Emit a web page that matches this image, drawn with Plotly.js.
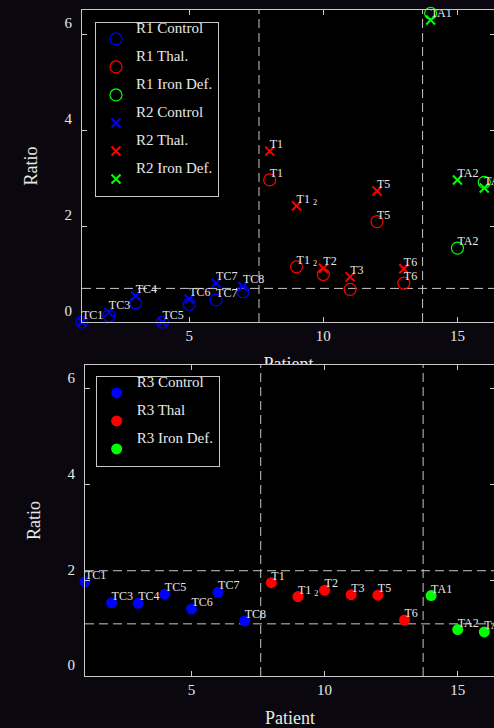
<!DOCTYPE html>
<html><head><meta charset="utf-8">
<script src="https://cdn.plot.ly/plotly-3.0.1.min.js"></script>
<style>
html,body{margin:0;padding:0;background:#0a080e;width:494px;height:728px;overflow:hidden;}
#wrap{position:relative;width:494px;height:728px;overflow:hidden;}
#top{position:absolute;left:0;top:0;width:500px;height:400px;}
#bot{position:absolute;left:0;top:0;width:500px;height:728px;}
</style></head>
<body><div id="wrap"><div id="top"></div><div id="bot"></div></div>
<script>
// ---- data ----
const controlX = [1, 2, 3, 4, 5, 6, 7];
const controlLabels = ['TC1', 'TC3', 'TC4', 'TC5', 'TC6', 'TC7', 'TC8'];
const controlLabelsR1 = ['', '', '', '', '', 'TC7', ''];
const thalX = [8, 9, 10, 11, 12, 13];
const thalLabels = ['T1', 'T1 <sub>2</sub>', 'T2', 'T3', 'T5', 'T6'];
const thalLabelsR1 = ['T1', 'T1 <sub>2</sub>', '', '', 'T5', 'T6'];
const ironX = [14, 15, 16];
const ironLabels = ['TA1', 'TA2', 'TA3'];
const ironLabelsR1 = ['', 'TA2', ''];

const r1Control = [0.00, 0.13, 0.40, 0.00, 0.37, 0.46, 0.63];
const r2Control = [0.00, 0.20, 0.54, 0.00, 0.48, 0.81, 0.74];
const r1Thal = [2.96, 1.15, 0.99, 0.68, 2.09, 0.81];
const r2Thal = [3.56, 2.42, 1.12, 0.94, 2.73, 1.11];
const r1Iron = [6.43, 1.54, 2.91];
const r2Iron = [6.29, 2.96, 2.79];

const r3Control = [1.97, 1.53, 1.52, 1.71, 1.40, 1.75, 1.15];
const r3Thal = [1.95, 1.66, 1.79, 1.70, 1.69, 1.17];
const r3Iron = [1.68, 0.97, 0.92];

const groupBounds = [7.6, 13.7];
const topRefLines = [0.70];
const bottomRefLines = [2.2, 1.09];

const xTicks = [5, 10, 15];
const yTicks = [0, 2, 4, 6];

// ---- style ----
const FONT = 'Liberation Serif, Times New Roman, serif';
const TXT = '#e8e8e8';
const AX = '#c8c8c8';
const BLUE = '#0000ff', RED = '#ff0000', GREEN = '#00ff00';

function legName(s) { return '<span style="baseline-shift:12px">' + s + '</span>'; }

function circles(x, y, name, color, filled, group) {
  return {
    type: 'scatter', mode: 'markers', x: x, y: y, name: legName(name),
    legendgroup: group, cliponaxis: false, hoverinfo: 'skip',
    marker: filled ? {symbol: 'circle', size: 11, color: color}
                   : {symbol: 'circle-open', size: 12, color: color, line: {width: 1.2, color: color}}
  };
}
function crosses(x, y, name, color, group) {
  return {
    type: 'scatter', mode: 'markers', x: x, y: y, name: legName(name),
    legendgroup: group, cliponaxis: false, hoverinfo: 'skip',
    marker: {symbol: 'x-thin', size: 9, color: color, line: {width: 2, color: color}}
  };
}
function labels(x, y, t) {
  // keep only the points that carry a label
  const keep = t.map((s, i) => s ? i : -1).filter(i => i >= 0);
  return {
    type: 'scatter', mode: 'text',
    x: keep.map(i => x[i]), y: keep.map(i => y[i]), text: keep.map(i => t[i]),
    textposition: 'top right',
    cliponaxis: false, showlegend: false, hoverinfo: 'skip',
    textfont: {family: FONT, size: 12, color: TXT}
  };
}

function axes(titleStandoff) {
  const common = {
    showline: true, linecolor: AX, linewidth: 1, mirror: 'ticks',
    ticks: 'inside', ticklen: 5, tickcolor: AX, tickwidth: 1,
    showgrid: false, zeroline: false,
    tickfont: {family: FONT, size: 15, color: TXT}
  };
  return {
    xaxis: Object.assign({}, common, {
      range: [1, 16.4], tickmode: 'array', tickvals: xTicks,
      title: {text: 'Patient', font: {family: FONT, size: 18, color: TXT}, standoff: titleStandoff}
    }),
    yaxis: Object.assign({}, common, {
      range: [0, 6.5], tickmode: 'array', tickvals: yTicks,
      ticklabelshift: -11, ticklabelstandoff: 6,
      title: {text: 'Ratio\u00A0\u00A0\u00A0', font: {family: FONT, size: 18, color: TXT}, standoff: 22}
    })
  };
}

function refShapes(hLines) {
  const shapes = [];
  groupBounds.forEach(v => shapes.push({type: 'line', xref: 'x', yref: 'paper', x0: v, x1: v, y0: 0, y1: 1,
    line: {color: AX, width: 1, dash: '9px,5px'}, layer: 'below'}));
  hLines.forEach(v => shapes.push({type: 'line', xref: 'paper', yref: 'y', x0: 0, x1: 1, y0: v, y1: v,
    line: {color: AX, width: 1, dash: '9px,5px'}, layer: 'below'}));
  return shapes;
}

function legendStyle(x, y) {
  return {
    x: x, y: y, xanchor: 'left', yanchor: 'top',
    bgcolor: '#000000', bordercolor: AX, borderwidth: 1,
    font: {family: FONT, size: 15, color: TXT},
    traceorder: 'grouped', tracegroupgap: 5.5, itemclick: false
  };
}

// ---- top figure ----
const topData = [
  circles(controlX, r1Control, 'R1 Control', BLUE, false, 'a'),
  circles(thalX, r1Thal, 'R1 Thal.', RED, false, 'b'),
  circles(ironX, r1Iron, 'R1 Iron Def.', GREEN, false, 'c'),
  crosses(controlX, r2Control, 'R2 Control', BLUE, 'd'),
  crosses(thalX, r2Thal, 'R2 Thal.', RED, 'e'),
  crosses(ironX, r2Iron, 'R2 Iron Def.', GREEN, 'f'),
  labels(controlX, r1Control, controlLabelsR1),
  labels(controlX, r2Control, controlLabels),
  labels(thalX, r1Thal, thalLabelsR1),
  labels(thalX, r2Thal, thalLabels),
  labels(ironX, r1Iron, ironLabelsR1),
  labels(ironX, r2Iron, ironLabels)
];
const topLayout = Object.assign({
  width: 500, height: 400,
  margin: {l: 82, r: 5, t: 10, b: 78},
  paper_bgcolor: '#0a080e', plot_bgcolor: '#000000',
  font: {family: FONT, color: TXT},
  showlegend: true,
  legend: legendStyle(0.0315, 0.9625),
  shapes: refShapes(topRefLines)
}, axes(14));
Plotly.newPlot('top', topData, topLayout, {displayModeBar: false, staticPlot: true});

// ---- bottom figure ----
const botData = [
  circles(controlX, r3Control, 'R3 Control', BLUE, true, 'a'),
  circles(thalX, r3Thal, 'R3 Thal', RED, true, 'b'),
  circles(ironX, r3Iron, 'R3 Iron Def.', GREEN, true, 'c'),
  labels(controlX, r3Control, controlLabels),
  labels(thalX, r3Thal, thalLabels),
  labels(ironX, r3Iron, ironLabels)
];
const botLayout = Object.assign({
  width: 500, height: 728,
  margin: {l: 85, r: 5, t: 365, b: 51.5},
  paper_bgcolor: 'rgba(0,0,0,0)', plot_bgcolor: '#000000',
  font: {family: FONT, color: TXT},
  showlegend: true,
  legend: legendStyle(0.026, 0.9657),
  shapes: refShapes(bottomRefLines)
}, axes(26));
Plotly.newPlot('bot', botData, botLayout, {displayModeBar: false, staticPlot: true});
</script>
</body></html>
